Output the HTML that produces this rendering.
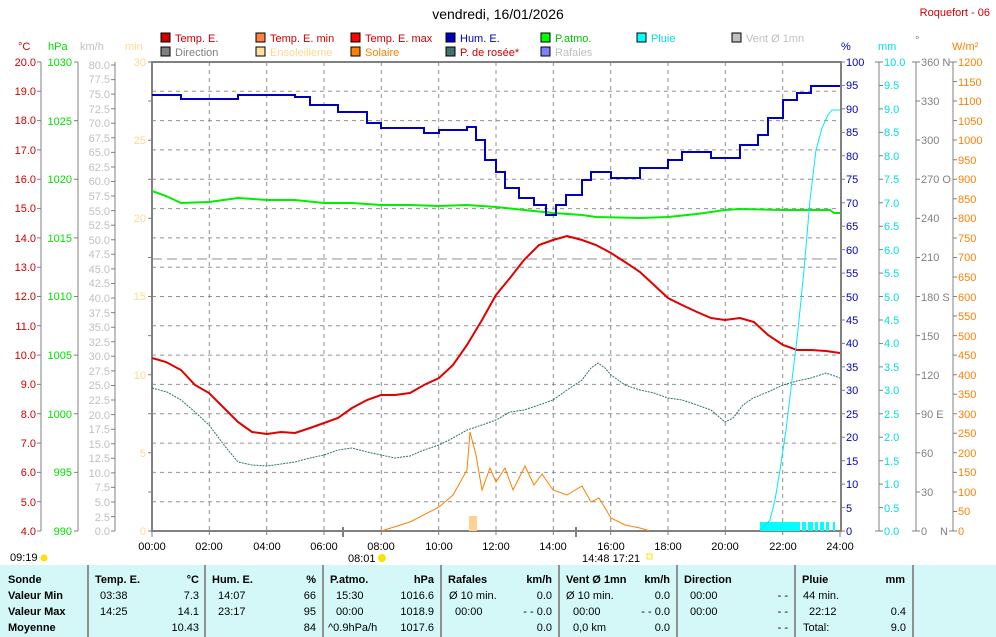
<!DOCTYPE html>
<html><head><meta charset="utf-8"><style>
body{margin:0;background:#fff;}
svg{display:block;font-family:"Liberation Sans",sans-serif;font-size:11px;}
.b{font-weight:bold;}
</style></head><body>
<svg width="996" height="637" viewBox="0 0 996 637" xmlns="http://www.w3.org/2000/svg">
<rect width="996" height="637" fill="#fff"/>
<text x="498" y="19" font-size="14" text-anchor="middle">vendredi, 16/01/2026</text>
<text x="990" y="16" fill="#d00000" text-anchor="end">Roquefort - 06</text>
<!-- legend -->
<g font-size="11">
<rect x="161" y="33" width="9" height="9" fill="#d00000" stroke="#000"/><text x="175" y="42" fill="#d00000">Temp. E.</text>
<rect x="256" y="33" width="9" height="9" fill="#ff8040" stroke="#000"/><text x="270" y="42" fill="#d00000">Temp. E. min</text>
<rect x="351" y="33" width="9" height="9" fill="#ff0000" stroke="#000"/><text x="365" y="42" fill="#d00000">Temp. E. max</text>
<rect x="446" y="33" width="9" height="9" fill="#0000c0" stroke="#000"/><text x="460" y="42" fill="#0000c0">Hum. E.</text>
<rect x="541" y="33" width="9" height="9" fill="#00ff00" stroke="#000"/><text x="555" y="42" fill="#00c000">P.atmo.</text>
<rect x="637" y="33" width="9" height="9" fill="#00ffff" stroke="#000"/><text x="651" y="42" fill="#00e0e0">Pluie</text>
<rect x="732" y="33" width="9" height="9" fill="#c0c0c0" stroke="#000"/><text x="746" y="42" fill="#c0c0c0">Vent Ø 1mn</text>
<rect x="161" y="47" width="9" height="9" fill="#808080" stroke="#000"/><text x="175" y="56" fill="#808080">Direction</text>
<rect x="256" y="47" width="9" height="9" fill="#ffe0a0" stroke="#000"/><text x="270" y="56" fill="#ffd890">Ensoleilleme</text>
<rect x="351" y="47" width="9" height="9" fill="#ff8000" stroke="#000"/><text x="365" y="56" fill="#ff8000">Solaire</text>
<rect x="446" y="47" width="9" height="9" fill="#407070" stroke="#000"/><text x="460" y="56" fill="#d00000">P. de rosée*</text>
<rect x="541" y="47" width="9" height="9" fill="#8080ff" stroke="#000"/><text x="555" y="56" fill="#c0c0c0">Rafales</text>
</g>
<!-- axis unit headers -->
<text x="18" y="50" fill="#d00000">°C</text>
<text x="48" y="50" fill="#00e000">hPa</text>
<text x="80" y="50" fill="#c0c0c0">km/h</text>
<text x="125" y="50" fill="#ffd890">min</text>
<text x="841" y="50" fill="#0000c0">%</text>
<text x="878" y="50" fill="#00e0e0">mm</text>
<text x="915" y="44" fill="#808080">°</text>
<text x="952" y="50" fill="#ff8000">W/m²</text>
<!-- axis lines -->
<g stroke="#808080" stroke-width="1">
<line x1="41" y1="62" x2="41" y2="531"/><line x1="78" y1="62" x2="78" y2="531"/><line x1="115" y1="62" x2="115" y2="531"/>
<line x1="879" y1="62" x2="879" y2="531"/><line x1="916" y1="62" x2="916" y2="531"/><line x1="953" y1="62" x2="953" y2="531"/>
</g>
<!-- grid -->
<g stroke="#909090" stroke-dasharray="4,4" stroke-width="1">
<line x1="152" y1="91.3" x2="840" y2="91.3"/><line x1="152" y1="120.6" x2="840" y2="120.6"/><line x1="152" y1="149.9" x2="840" y2="149.9"/><line x1="152" y1="179.3" x2="840" y2="179.3"/><line x1="152" y1="208.6" x2="840" y2="208.6"/><line x1="152" y1="237.9" x2="840" y2="237.9"/><line x1="152" y1="267.2" x2="840" y2="267.2"/><line x1="152" y1="296.5" x2="840" y2="296.5"/><line x1="152" y1="325.8" x2="840" y2="325.8"/><line x1="152" y1="355.1" x2="840" y2="355.1"/><line x1="152" y1="384.4" x2="840" y2="384.4"/><line x1="152" y1="413.7" x2="840" y2="413.7"/><line x1="152" y1="443.1" x2="840" y2="443.1"/><line x1="152" y1="472.4" x2="840" y2="472.4"/><line x1="152" y1="501.7" x2="840" y2="501.7"/>
<line x1="209.3" y1="62" x2="209.3" y2="531"/><line x1="266.7" y1="62" x2="266.7" y2="531"/><line x1="324" y1="62" x2="324" y2="531"/><line x1="381.3" y1="62" x2="381.3" y2="531"/><line x1="438.7" y1="62" x2="438.7" y2="531"/><line x1="496" y1="62" x2="496" y2="531"/><line x1="553.3" y1="62" x2="553.3" y2="531"/><line x1="610.7" y1="62" x2="610.7" y2="531"/><line x1="668" y1="62" x2="668" y2="531"/><line x1="725.3" y1="62" x2="725.3" y2="531"/><line x1="782.7" y1="62" x2="782.7" y2="531"/>
</g>
<line x1="152" y1="259" x2="840" y2="259" stroke="#909090" stroke-dasharray="10,5"/>
<!-- °C labels -->
<g fill="#d00000" text-anchor="end">
<text x="36" y="66">20.0</text><text x="36" y="95">19.0</text><text x="36" y="124">18.0</text><text x="36" y="154">17.0</text><text x="36" y="183">16.0</text><text x="36" y="212">15.0</text><text x="36" y="242">14.0</text><text x="36" y="271">13.0</text><text x="36" y="300">12.0</text><text x="36" y="330">11.0</text><text x="36" y="359">10.0</text><text x="36" y="388">9.0</text><text x="36" y="418">8.0</text><text x="36" y="447">7.0</text><text x="36" y="476">6.0</text><text x="36" y="506">5.0</text><text x="36" y="535">4.0</text>
</g>
<g stroke="#808080"><path d="M37 62h4M37 91.3h4M37 120.6h4M37 149.9h4M37 179.3h4M37 208.6h4M37 237.9h4M37 267.2h4M37 296.5h4M37 325.8h4M37 355.1h4M37 384.4h4M37 413.7h4M37 443.1h4M37 472.4h4M37 501.7h4M37 531h4"/>
<path d="M74 62h4M74 120.6h4M74 179.3h4M74 237.9h4M74 296.5h4M74 355.1h4M74 413.7h4M74 472.4h4M74 531h4"/></g>
<g fill="#00e000" text-anchor="end">
<text x="72" y="66">1030</text><text x="72" y="125">1025</text><text x="72" y="183">1020</text><text x="72" y="242">1015</text><text x="72" y="300">1010</text><text x="72" y="359">1005</text><text x="72" y="418">1000</text><text x="72" y="476">995</text><text x="72" y="535">990</text>
</g>
<!-- km/h -->
<g fill="#c0c0c0" text-anchor="end">
<text x="110" y="69">80.0</text><text x="110" y="83">77.5</text><text x="110" y="98">75.0</text><text x="110" y="113">72.5</text><text x="110" y="127">70.0</text><text x="110" y="142">67.5</text><text x="110" y="156">65.0</text><text x="110" y="171">62.5</text><text x="110" y="185">60.0</text><text x="110" y="200">57.5</text><text x="110" y="215">55.0</text><text x="110" y="229">52.5</text><text x="110" y="244">50.0</text><text x="110" y="258">47.5</text><text x="110" y="273">45.0</text><text x="110" y="287">42.5</text><text x="110" y="302">40.0</text><text x="110" y="317">37.5</text><text x="110" y="331">35.0</text><text x="110" y="346">32.5</text><text x="110" y="360">30.0</text><text x="110" y="375">27.5</text><text x="110" y="389">25.0</text><text x="110" y="404">22.5</text><text x="110" y="419">20.0</text><text x="110" y="433">17.5</text><text x="110" y="448">15.0</text><text x="110" y="462">12.5</text><text x="110" y="477">10.0</text><text x="110" y="491">7.5</text><text x="110" y="506">5.0</text><text x="110" y="521">2.5</text><text x="110" y="535">0.0</text>
</g>
<!-- min -->
<g fill="#ffd890" text-anchor="end">
<text x="146" y="66">30</text><text x="146" y="144">25</text><text x="146" y="222">20</text><text x="146" y="300">15</text><text x="146" y="379">10</text><text x="146" y="457">5</text><text x="146" y="535">0</text>
</g>
<!-- % -->
<g fill="#0000c0">
<text x="846" y="66">100</text><text x="846" y="89">95</text><text x="846" y="113">90</text><text x="846" y="136">85</text><text x="846" y="160">80</text><text x="846" y="183">75</text><text x="846" y="207">70</text><text x="846" y="230">65</text><text x="846" y="254">60</text><text x="846" y="277">55</text><text x="846" y="301">50</text><text x="846" y="324">45</text><text x="846" y="347">40</text><text x="846" y="371">35</text><text x="846" y="394">30</text><text x="846" y="418">25</text><text x="846" y="441">20</text><text x="846" y="465">15</text><text x="846" y="488">10</text><text x="846" y="512">5</text><text x="846" y="535">0</text>
</g>
<!-- mm -->
<g fill="#00e0e0">
<text x="884" y="66">10.0</text><text x="884" y="89">9.5</text><text x="884" y="113">9.0</text><text x="884" y="136">8.5</text><text x="884" y="160">8.0</text><text x="884" y="183">7.5</text><text x="884" y="207">7.0</text><text x="884" y="230">6.5</text><text x="884" y="254">6.0</text><text x="884" y="277">5.5</text><text x="884" y="301">5.0</text><text x="884" y="324">4.5</text><text x="884" y="347">4.0</text><text x="884" y="371">3.5</text><text x="884" y="394">3.0</text><text x="884" y="418">2.5</text><text x="884" y="441">2.0</text><text x="884" y="465">1.5</text><text x="884" y="488">1.0</text><text x="884" y="512">0.5</text><text x="884" y="535">0.0</text>
</g>
<!-- degrees -->
<g fill="#808080">
<text x="921" y="66">360 N</text><text x="921" y="105">330</text><text x="921" y="144">300</text><text x="921" y="183">270 O</text><text x="921" y="222">240</text><text x="921" y="261">210</text><text x="921" y="301">180 S</text><text x="921" y="340">150</text><text x="921" y="379">120</text><text x="921" y="418">90  E</text><text x="921" y="457">60</text><text x="921" y="496">30</text><text x="921" y="535">0</text><text x="940" y="535">N</text>
</g>
<!-- W/m2 -->
<g fill="#ff8000">
<text x="958" y="66">1200</text><text x="958" y="86">1150</text><text x="958" y="105">1100</text><text x="958" y="125">1050</text><text x="958" y="144">1000</text><text x="958" y="164">950</text><text x="958" y="183">900</text><text x="958" y="203">850</text><text x="958" y="222">800</text><text x="958" y="242">750</text><text x="958" y="261">700</text><text x="958" y="281">650</text><text x="958" y="301">600</text><text x="958" y="320">550</text><text x="958" y="340">500</text><text x="958" y="359">450</text><text x="958" y="379">400</text><text x="958" y="398">350</text><text x="958" y="418">300</text><text x="958" y="437">250</text><text x="958" y="457">200</text><text x="958" y="476">150</text><text x="958" y="496">100</text><text x="958" y="515">50</text><text x="958" y="535">0</text>
</g>
<!-- right ticks -->
<g stroke="#808080">
<path d="M841 62h4M841 85.5h4M841 108.9h4M841 132.4h4M841 155.8h4M841 179.3h4M841 202.7h4M841 226.2h4M841 249.6h4M841 273.1h4M841 296.5h4M841 320h4M841 343.4h4M841 366.9h4M841 390.3h4M841 413.8h4M841 437.2h4M841 460.7h4M841 484.1h4M841 507.6h4M841 531h4"/>
<path d="M875 62h8M879 85.5h4M879 108.9h4M879 132.4h4M879 155.8h4M879 179.3h4M879 202.7h4M879 226.2h4M879 249.6h4M879 273.1h4M879 296.5h4M879 320h4M879 343.4h4M879 366.9h4M879 390.3h4M879 413.8h4M879 437.2h4M879 460.7h4M879 484.1h4M879 507.6h4M875 531h8"/>
<path d="M912 62h8M916 101h4M916 140h4M916 179.3h4M916 218.4h4M916 257.5h4M916 296.5h4M916 335.6h4M916 374.7h4M916 413.8h4M916 452.8h4M916 492h4M912 531h8"/>
<path d="M949 62h8M953 81.5h4M953 101h4M953 120.6h4M953 140h4M953 159.7h4M953 179.3h4M953 198.8h4M953 218.4h4M953 238h4M953 257.5h4M953 277h4M953 296.5h4M953 316h4M953 335.6h4M953 355.1h4M953 374.7h4M953 394.2h4M953 413.8h4M953 433.3h4M953 452.8h4M953 472.4h4M953 492h4M953 511.5h4M949 531h8"/>
<path d="M111 65h4M111 79.6h4M111 94.1h4M111 108.7h4M111 123.2h4M111 137.8h4M111 152.4h4M111 167h4M111 181.5h4M111 196h4M111 210.6h4M111 225.2h4M111 239.8h4M111 254.3h4M111 268.9h4M111 283.5h4M111 298h4M111 312.6h4M111 327.2h4M111 341.8h4M111 356.3h4M111 370.9h4M111 385.5h4M111 400h4M111 414.6h4M111 429.2h4M111 443.7h4M111 458.3h4M111 472.9h4M111 487.4h4M111 502h4M111 516.6h4M111 531h4"/>
<path d="M148 62h4M148 101h4M148 140.2h4M148 179.3h4M148 218.3h4M148 257.5h4M148 296.5h4M148 335.6h4M148 374.7h4M148 413.8h4M148 452.8h4M148 492h4M148 531h4"/>
</g>
<!-- plot frame -->
<rect x="152" y="62" width="689" height="469" fill="none" stroke="#808080" stroke-width="2"/>
<!-- x ticks and labels -->
<g stroke="#808080"><path d="M152 531v6M209.3 531v4M266.7 531v4M324 531v4M381.3 531v4M438.7 531v4M496 531v4M553.3 531v4M610.7 531v4M668 531v4M725.3 531v4M782.7 531v4M840 531v6"/></g>
<g text-anchor="middle" fill="#000">
<text x="152" y="550">00:00</text><text x="209" y="550">02:00</text><text x="267" y="550">04:00</text><text x="324" y="550">06:00</text><text x="381" y="550">08:00</text><text x="439" y="550">10:00</text><text x="496" y="550">12:00</text><text x="553" y="550">14:00</text><text x="611" y="550">16:00</text><text x="668" y="550">18:00</text><text x="725" y="550">20:00</text><text x="783" y="550">22:00</text><text x="840" y="550">24:00</text>
</g>
<text x="10" y="561">09:19</text><circle cx="44" cy="558" r="3.5" fill="#ffe000"/>
<text x="348" y="562">08:01</text><circle cx="382" cy="558" r="4" fill="#ffe000"/>
<text x="582" y="562">14:48  17:21</text><rect x="647" y="554" width="5" height="5" fill="none" stroke="#ffe000"/>
<line x1="343" y1="527" x2="343" y2="537" stroke="#808080" stroke-width="2"/><line x1="576" y1="527" x2="576" y2="537" stroke="#808080" stroke-width="2"/>
<!-- sunshine bar -->
<rect x="469" y="516" width="8" height="15" fill="#ffd090"/>
<!-- rain bars -->
<g fill="#00ffff"><rect x="760" y="522" width="40" height="9"/><rect x="802" y="522" width="4" height="9"/><rect x="808" y="522" width="5" height="9"/><rect x="815" y="522" width="3" height="9"/><rect x="820" y="522" width="4" height="9"/><rect x="826" y="522" width="3" height="9"/><rect x="833" y="522" width="2" height="9"/></g>
<!-- solar -->
<polyline fill="none" stroke="#ff8000" stroke-width="1" points="381,531 410,522 439,507 453,495 467,470 470,432 476,455 482,490 490,468 496,482 505,468 513,490 525,466 534,485 542,474 553,490 567,495 582,486 591,502 599,498 611,518 625,525 640,528 650,531"/>
<!-- dew point -->
<polyline fill="none" stroke="#307070" stroke-width="1" stroke-dasharray="2,1" points="152,388 167,392 181,400 195,412 209,425 224,445 238,462 252,465 267,466 281,464 295,462 310,458 324,455 338,450 352,448 367,452 381,455 395,458 410,456 424,450 439,445 453,438 467,430 482,425 496,420 510,412 524,410 539,405 553,400 567,390 582,380 591,368 598,363 605,368 611,375 625,385 640,390 654,393 668,398 682,400 697,405 711,410 725,422 733,418 743,405 753,398 768,392 783,385 797,381 811,378 826,373 840,378"/>
<!-- pressure -->
<polyline fill="none" stroke="#00ee00" stroke-width="2" points="152,191 166,196 181,203 209,202 238,198 267,200 295,200 324,203 352,203 381,205 410,205 439,206 467,205 496,207 524,210 553,213 582,215 596,217 640,218 668,217 697,214 725,210 740,209 783,210 811,210 830,210 834,213 840,213"/>
<!-- temperature -->
<polyline fill="none" stroke="#e00000" stroke-width="2" points="152,358 166,362 181,370 195,385 209,393 224,408 238,422 252,432 267,434 281,432 295,433 310,428 324,423 338,418 352,408 367,400 381,395 395,395 410,393 424,385 439,378 453,365 467,345 482,320 496,295 510,278 524,260 539,245 553,240 567,236 582,240 596,245 611,253 625,262 640,272 654,285 668,298 682,305 697,312 711,318 725,320 740,318 754,322 768,335 783,345 797,350 811,350 826,351 840,353"/>
<!-- humidity -->
<polyline fill="none" stroke="#0000c0" stroke-width="2" points="152,95 181,95 181,99 238,99 238,95 295,95 295,97 310,97 310,105 338,105 338,112 367,112 367,123 381,123 381,128 424,128 424,133 439,133 439,130 467,130 467,127 476,127 476,140 485,140 485,160 496,160 496,172 505,172 505,188 519,188 519,198 534,198 534,205 546,205 546,215 556,215 556,205 566,205 566,195 582,195 582,180 591,180 591,172 611,172 611,178 640,178 640,168 668,168 668,160 682,160 682,152 711,152 711,158 740,158 740,145 758,145 758,135 768,135 768,118 783,118 783,100 797,100 797,93 811,93 811,86 840,86"/>
<!-- rain -->
<polyline fill="none" stroke="#00e8ff" stroke-width="1" points="760,531 770,520 775,500 780,470 786,430 792,380 798,330 804,270 810,200 816,150 822,128 828,115 832,110 840,110"/>
<!-- table -->
<rect x="0" y="565" width="996" height="72" fill="#d4f8f8"/>
<g stroke="#909090" stroke-width="2"><line x1="88" y1="565" x2="88" y2="637"/><line x1="205" y1="565" x2="205" y2="637"/><line x1="323" y1="565" x2="323" y2="637"/><line x1="441" y1="565" x2="441" y2="637"/><line x1="559" y1="565" x2="559" y2="637"/><line x1="677" y1="565" x2="677" y2="637"/><line x1="795" y1="565" x2="795" y2="637"/><line x1="913" y1="565" x2="913" y2="637"/></g>
<g class="b">
<text x="8" y="583">Sonde</text><text x="8" y="599">Valeur Min</text><text x="8" y="615">Valeur Max</text><text x="8" y="631">Moyenne</text>
<text x="95" y="583">Temp. E.</text><text x="199" y="583" text-anchor="end">°C</text>
<text x="212" y="583">Hum. E.</text><text x="316" y="583" text-anchor="end">%</text>
<text x="330" y="583">P.atmo.</text><text x="434" y="583" text-anchor="end">hPa</text>
<text x="448" y="583">Rafales</text><text x="552" y="583" text-anchor="end">km/h</text>
<text x="566" y="583">Vent Ø 1mn</text><text x="670" y="583" text-anchor="end">km/h</text>
<text x="684" y="583">Direction</text>
<text x="802" y="583">Pluie</text><text x="905" y="583" text-anchor="end">mm</text>
</g>
<g>
<text x="100" y="599">03:38</text><text x="199" y="599" text-anchor="end">7.3</text>
<text x="100" y="615">14:25</text><text x="199" y="615" text-anchor="end">14.1</text>
<text x="199" y="631" text-anchor="end">10.43</text>
<text x="218" y="599">14:07</text><text x="316" y="599" text-anchor="end">66</text>
<text x="218" y="615">23:17</text><text x="316" y="615" text-anchor="end">95</text>
<text x="316" y="631" text-anchor="end">84</text>
<text x="336" y="599">15:30</text><text x="434" y="599" text-anchor="end">1016.6</text>
<text x="336" y="615">00:00</text><text x="434" y="615" text-anchor="end">1018.9</text>
<text x="328" y="631">^0.9hPa/h</text><text x="434" y="631" text-anchor="end">1017.6</text>
<text x="449" y="599">Ø 10 min.</text><text x="552" y="599" text-anchor="end">0.0</text>
<text x="455" y="615">00:00</text><text x="552" y="615" text-anchor="end">- - 0.0</text>
<text x="552" y="631" text-anchor="end">0.0</text>
<text x="566" y="599">Ø 10 min.</text><text x="670" y="599" text-anchor="end">0.0</text>
<text x="573" y="615">00:00</text><text x="670" y="615" text-anchor="end">- - 0.0</text>
<text x="573" y="631">0,0 km</text><text x="670" y="631" text-anchor="end">0.0</text>
<text x="690" y="599">00:00</text><text x="788" y="599" text-anchor="end">- -</text>
<text x="690" y="615">00:00</text><text x="788" y="615" text-anchor="end">- -</text>
<text x="788" y="631" text-anchor="end">- -</text>
<text x="803" y="599">44 min.</text>
<text x="809" y="615">22:12</text><text x="906" y="615" text-anchor="end">0.4</text>
<text x="803" y="631">Total:</text><text x="906" y="631" text-anchor="end">9.0</text>
</g>
</svg>
</body></html>
